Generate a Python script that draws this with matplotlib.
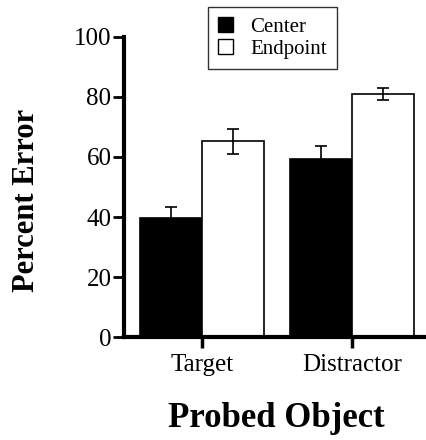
import matplotlib
matplotlib.use("Agg")
import matplotlib.pyplot as plt
import numpy as np
from matplotlib.patches import Patch

categories = ["Target", "Distractor"]
center_vals = [39.7, 59.3]
center_err = [3.5, 4.3]
endpoint_vals = [65.2, 81.0]
endpoint_err = [4.2, 2.0]
yticks = [0, 20, 40, 60, 80, 100]

plt.rcParams['font.family'] = ['Liberation Serif', 'DejaVu Serif']

fig = plt.figure(figsize=(4.26, 4.40), dpi=100)
ax = fig.add_axes([0.291, 0.234, 0.709, 0.682])

x = np.arange(len(categories))
w = 0.413
ax.bar(x - w/2, center_vals, w, color='black', edgecolor='black', linewidth=1.2, zorder=2)
ax.bar(x + w/2, endpoint_vals, w, color='white', edgecolor='black', linewidth=1.2, zorder=2)
ax.errorbar(x - w/2, center_vals, yerr=center_err, fmt='none', ecolor='black',
            elinewidth=1.2, capsize=4, capthick=1.2, zorder=3)
ax.errorbar(x + w/2, endpoint_vals, yerr=endpoint_err, fmt='none', ecolor='black',
            elinewidth=1.2, capsize=4, capthick=1.2, zorder=3)

ax.set_xlim(-0.52, 1.493)
ax.set_ylim(0, 100)
ax.set_yticks(yticks)
ax.set_xticks(x)
ax.set_xticklabels(categories, fontsize=18)
ax.tick_params(axis='y', labelsize=18, direction='out', length=8, width=2, pad=1)
ax.tick_params(axis='x', direction='out', length=8, width=2.5, pad=4)

for s in ['top', 'right']:
    ax.spines[s].set_visible(False)
ax.spines['left'].set_linewidth(3)
ax.spines['bottom'].set_linewidth(3)

fig.text(27/426, 1 - 200/440, "Percent Error", rotation=90, ha='center', va='center',
         fontsize=22, fontweight='bold')
fig.text(276/426, 1 - 427/440, "Probed Object", ha='center', va='baseline',
         fontsize=25, fontweight='bold')

handles = [Patch(facecolor='black', edgecolor='black', label='Center'),
           Patch(facecolor='white', edgecolor='black', label='Endpoint')]
leg = fig.legend(handles=handles, loc='upper left', bbox_to_anchor=(208/426, 1 - 7/440),
                 fontsize=15, frameon=True, fancybox=False, edgecolor='black',
                 handlelength=0.72, handleheight=0.72, borderpad=0.5, labelspacing=0.1,
                 handletextpad=0.8, borderaxespad=0)
leg.get_frame().set_linewidth(1.0)

fig.savefig("out.png", dpi=100)
